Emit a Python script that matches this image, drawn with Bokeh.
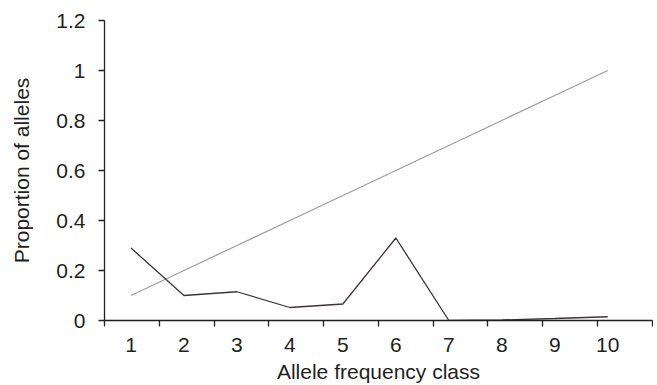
from bokeh.plotting import figure
from bokeh.models import FixedTicker, Range1d
from bokeh.embed import file_html
from bokeh.resources import INLINE

# ---- data ----
classes = [1, 2, 3, 4, 5, 6, 7, 8, 9, 10]
observed = [0.29, 0.10, 0.115, 0.052, 0.066, 0.33, 0.0, 0.002, 0.008, 0.015]
expected = [0.1, 0.2, 0.3, 0.4, 0.5, 0.6, 0.7, 0.8, 0.9, 1.0]
y_ticks = [0, 0.2, 0.4, 0.6, 0.8, 1, 1.2]
y_tick_labels = ["0", "0.2", "0.4", "0.6", "0.8", "1", "1.2"]
x_tick_labels = [str(c) for c in classes]

FONT = "Liberation Sans"
TXT = "#231f20"
FS = "21px"

p = figure(width=653, height=385, output_backend="svg", toolbar_location=None,
           x_range=Range1d(0.5, 10.845), y_range=Range1d(0, 1.2),
           min_border_left=104, min_border_right=1, min_border_top=20, min_border_bottom=10)
p.outline_line_color = None
p.grid.visible = False
p.background_fill_color = "white"
p.border_fill_color = "white"

# category boundaries (ticks between classes)
step = 54.8 / 53.0
bounds = [0.5 + k * step for k in range(11)]

p.xaxis.ticker = FixedTicker(ticks=classes, minor_ticks=bounds)
p.xaxis.major_label_overrides = {c: l for c, l in zip(classes, x_tick_labels)}
p.xaxis.major_tick_out = 0
p.xaxis.major_tick_in = 0
p.xaxis.minor_tick_out = 6
p.xaxis.minor_tick_in = 0
p.xaxis.minor_tick_line_color = TXT
p.xaxis.minor_tick_line_width = 1.3
p.xaxis.major_label_standoff = 11
p.xaxis.axis_label = "Allele frequency class"
p.xaxis.axis_label_standoff = 5

p.yaxis.ticker = FixedTicker(ticks=y_ticks, minor_ticks=[])
p.yaxis.major_label_overrides = {t: l for t, l in zip(y_ticks, y_tick_labels)}
p.yaxis.major_tick_out = 6
p.yaxis.major_tick_in = 0
p.yaxis.minor_tick_out = 0
p.yaxis.minor_tick_in = 0
p.yaxis.major_label_standoff = 13
p.yaxis.axis_label = "Proportion of alleles"
p.yaxis.axis_label_standoff = 20

for ax in (p.xaxis, p.yaxis):
    ax.axis_line_color = TXT
    ax.axis_line_width = 1.3
    ax.major_tick_line_color = TXT
    ax.major_tick_line_width = 1.3
    ax.major_label_text_font = FONT
    ax.major_label_text_font_size = FS
    ax.major_label_text_color = TXT
    ax.axis_label_text_font = FONT
    ax.axis_label_text_font_size = FS
    ax.axis_label_text_font_style = "normal"
    ax.axis_label_text_color = TXT

p.line(classes, expected, line_color="#a39d9d", line_width=1.3)
p.line(classes, observed, line_color="#3d3535", line_width=1.3)

open("out.html", "w").write(file_html(p, INLINE))
